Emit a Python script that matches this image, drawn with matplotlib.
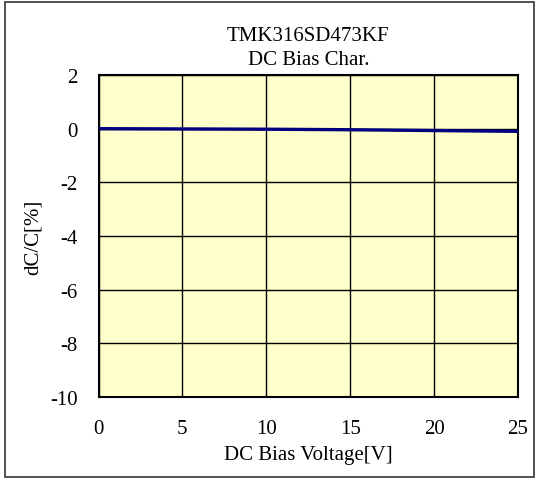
import matplotlib
matplotlib.use("Agg")
import matplotlib.pyplot as plt
from matplotlib.patches import Rectangle

voltage = [0, 2.5, 5, 7.5, 10, 12.5, 15, 17.5, 20, 22.5, 25]
dcc = [0.0, -0.005, -0.01, -0.015, -0.02, -0.03, -0.04, -0.055, -0.07, -0.085, -0.1]
xticks = [0, 5, 10, 15, 20, 25]
yticks = [2, 0, -2, -4, -6, -8, -10]

plt.rcParams['font.family'] = ['Liberation Serif', 'DejaVu Serif']
plt.rcParams['axes.unicode_minus'] = False
W, H = 539, 481
fig = plt.figure(figsize=(W/100, H/100), dpi=100)
fig.patch.set_facecolor('white')
fig.patches.append(Rectangle((5/W, 3/H), (534-5)/W, (478-3)/H, transform=fig.transFigure,
                             fill=False, edgecolor='#333333', linewidth=1.2))
ax = fig.add_axes([98.5/W, 1-398/H, (518-98.5)/W, (398-76)/H])
ax.set_facecolor('#FFFFCC')
ax.plot(voltage, dcc, color='#000080', linewidth=2.4, zorder=3)
ax.set_xlim(0, 25)
ax.set_ylim(-10, 2)
ax.set_xticks(xticks)
ax.set_yticks(yticks)
ax.set_yticklabels([str(v) for v in yticks])
ax.grid(True, color='black', linewidth=1.0)
ax.set_axisbelow(True)
for s in ax.spines.values():
    s.set_linewidth(1.5)
    s.set_color('black')
ax.tick_params(length=0, labelsize=15, pad=16)
ax.tick_params(axis='y', pad=15)
ax.set_xlabel('DC Bias Voltage[V]', fontsize=15, labelpad=5)
ax.set_ylabel('dC/C[%]', fontsize=15, labelpad=5)
ax.set_title('TMK316SD473KF\nDC Bias Char.', fontsize=15, pad=8, linespacing=1.32)
fig.savefig('out.png', dpi=100)
